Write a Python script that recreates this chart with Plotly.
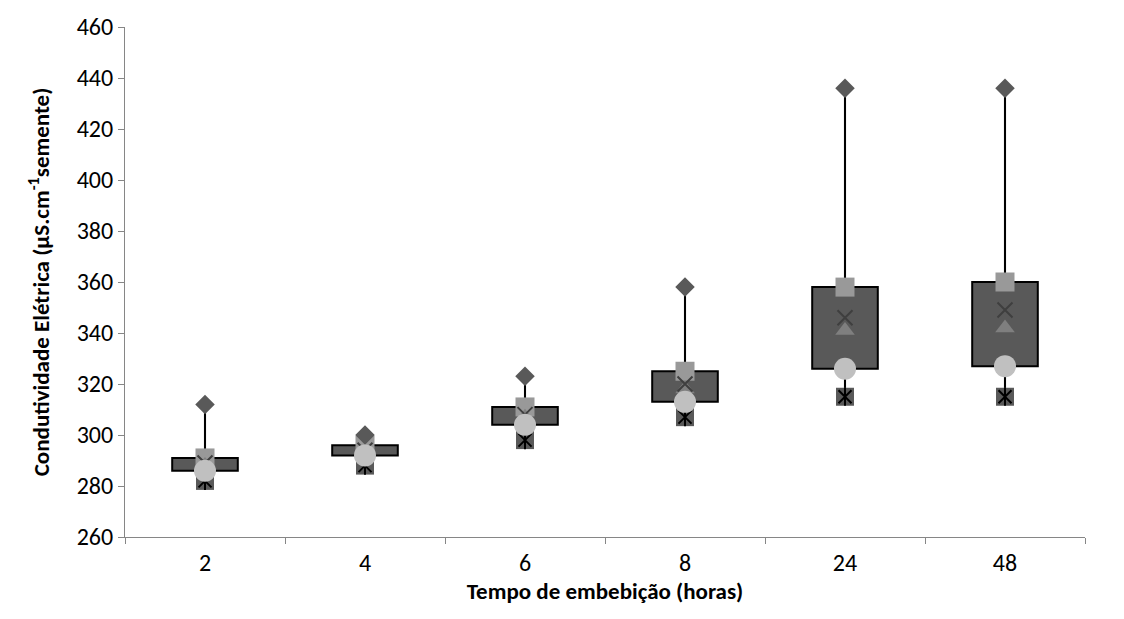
import plotly.graph_objects as go

# Tempo de embebição (horas) e estatísticas da condutividade elétrica
categorias = ["2", "4", "6", "8", "24", "48"]
maximo = [312, 300, 323, 358, 436, 436]
quartil3 = [291, 296, 311, 325, 358, 360]
media = [289, 294, 308, 320, 346, 349]
mediana = [288, 293, 307, 318, 341, 342]
quartil1 = [286, 292, 304, 313, 326, 327]
minimo = [282, 288, 298, 307, 315, 315]

FONT = "Carlito, Calibri, Lato, sans-serif"

fig = go.Figure()

# linha máximo-mínimo (barra fina, atrás da caixa)
fig.add_trace(go.Bar(
    x=categorias, y=[a - b for a, b in zip(maximo, minimo)], base=minimo,
    width=0.013, marker=dict(color="black", line=dict(width=0)),
    showlegend=False, hoverinfo="skip"))

# caixa entre o primeiro e o terceiro quartil
fig.add_trace(go.Bar(
    x=categorias, y=[a - b for a, b in zip(quartil3, quartil1)], base=quartil1,
    width=0.41, marker=dict(color="#595959", line=dict(color="black", width=2)),
    showlegend=False, hoverinfo="skip"))

def pontos(valores, **marker):
    fig.add_trace(go.Scatter(x=categorias, y=valores, mode="markers",
                             marker=marker, showlegend=False, cliponaxis=False))

pontos(quartil3, symbol="square", size=19, color="#999999", line=dict(width=0))
pontos(maximo, symbol="diamond", size=15, color="#595959", line=dict(width=0))
# mínimo: quadrado escuro com asterisco preto
pontos(minimo, symbol="square", size=18, color="#595959", line=dict(width=0))
pontos(minimo, symbol="x-thin-open", size=13, color="black",
       line=dict(color="black", width=2))
pontos(minimo, symbol="line-ns-open", size=13, color="black",
       line=dict(color="black", width=2))
pontos(mediana, symbol="triangle-up", size=17, color="#7f7f7f", line=dict(width=0))
pontos(media, symbol="x-thin-open", size=15, color="#3f3f3f",
       line=dict(color="#3f3f3f", width=2))
pontos(quartil1, symbol="circle", size=22, color="#c0c0c0", line=dict(width=0))

fig.update_layout(
    width=1124, height=619,
    margin=dict(l=125, r=39, t=27, b=82),
    plot_bgcolor="white", paper_bgcolor="white",
    barmode="overlay",
    font=dict(family=FONT, size=24, color="black"),
    xaxis=dict(
        type="category", tickson="boundaries", ticks="outside", ticklen=6,
        tickcolor="#868686", showline=True, linecolor="#868686", linewidth=1,
        showgrid=False, zeroline=False, tickfont=dict(size=24),
        ticklabelstandoff=4,
        title=dict(text="<b>Tempo de embebição (horas)</b>", standoff=6,
                   font=dict(size=23))),
    yaxis=dict(
        range=[260, 460], dtick=20, ticks="outside", ticklen=6,
        tickcolor="#868686", showline=True, linecolor="#868686", linewidth=1,
        showgrid=False, zeroline=False, tickfont=dict(size=24),
        title=dict(text="<b>Condutividade Elétrica (µS.cm<sup>-1</sup>semente)</b>",
                   standoff=20, font=dict(size=23))),
)

fig.write_html("out.html")
